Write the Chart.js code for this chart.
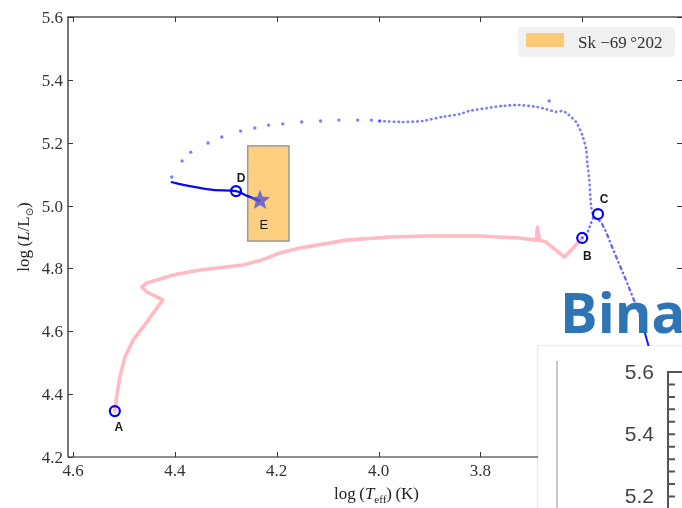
<!DOCTYPE html>
<html><head><meta charset="utf-8">
<script src="https://cdn.jsdelivr.net/npm/chart.js@4"></script>
<style>html,body{margin:0;padding:0;background:#fff;overflow:hidden}canvas{display:block}</style>
</head><body>
<canvas id="c" width="682" height="508"></canvas>
<script>
// ---- data (log Teff, log L/Lsun) ----
const pinkT = [4.518,4.514,4.508,4.498,4.482,4.455,4.424,4.455,4.465,4.455,4.435,4.404,4.351,4.267,4.229,4.194,4.155,4.063,3.978,3.900,3.802,3.724,3.690,3.688,3.684,3.671,3.659,3.635,3.616,3.600];
const pinkL = [4.346,4.397,4.455,4.519,4.572,4.630,4.700,4.725,4.741,4.754,4.763,4.779,4.795,4.811,4.827,4.849,4.865,4.890,4.900,4.903,4.903,4.897,4.890,4.932,4.890,4.884,4.868,4.836,4.868,4.897];

const dotT = [4.406,4.386,4.369,4.335,4.308,4.271,4.243,4.216,4.188,4.151,4.114,4.078,4.041,4.014,3.998,3.665];
const dotL = [5.091,5.142,5.170,5.199,5.218,5.237,5.247,5.256,5.260,5.266,5.269,5.272,5.272,5.272,5.269,5.333];

const denseT = [3.998,3.953,3.914,3.875,3.841,3.822,3.788,3.757,3.724,3.690,3.671,3.651,3.639,3.631,3.612,3.600,3.592,3.590,3.586,3.584,3.582,3.578];
const denseL = [5.269,5.266,5.269,5.282,5.291,5.301,5.310,5.317,5.320,5.314,5.307,5.298,5.301,5.295,5.266,5.225,5.177,5.135,5.081,5.027,4.992,4.964];

const lowT = [3.578,3.563,3.553,3.543,3.533,3.524,3.514,3.504,3.492,3.482];
const lowL = [4.964,4.948,4.916,4.875,4.836,4.801,4.763,4.722,4.674,4.626];

const endT = [3.482,3.473,3.459];
const endL = [4.626,4.572,4.493];

const bcT = [3.600,3.590,3.578];
const bcL = [4.897,4.913,4.964];

const solidT = [4.408,4.371,4.325,4.280,4.257,4.233];
const solidL = [5.075,5.062,5.050,5.046,5.030,5.015];

const markerT = [4.518,3.600,3.569,4.280];
const markerL = [4.346,4.897,4.973,5.046];
const markerNames = ['A','B','C','D'];

const starT = [4.233];
const starL = [5.018];
const starNames = ['E'];

const skBoxT = [4.176,4.257];
const skBoxL = [4.887,5.190];
const legendLabel = 'Sk \u221269\u2009\u00b0202';

const xTicks = [4.6,4.4,4.2,4.0,3.8,3.6];
const yTicks = [4.2,4.4,4.6,4.8,5.0,5.2,5.4,5.6];
const insetTicks = ['5.6','5.4','5.2'];
const overlayWord = 'Bina';

// ---- helpers ----
const pts = (xs, ys) => xs.map((x, i) => ({x: x, y: ys[i]}));
const SERIF = '"Liberation Serif","DejaVu Serif",serif';

function makeStar(){
  const c = document.createElement('canvas');
  c.width = 24; c.height = 24;
  const g = c.getContext('2d');
  g.beginPath();
  for (let i = 0; i < 10; i++) {
    const r = i % 2 === 0 ? 10.5 : 4.6;
    const a = -Math.PI/2 + i*Math.PI/5;
    const px = 12 + r*Math.cos(a), py = 12.5 + r*Math.sin(a);
    if (i === 0) g.moveTo(px, py); else g.lineTo(px, py);
  }
  g.closePath();
  g.fillStyle = 'rgba(85,85,215,0.82)';
  g.fill();
  return c;
}

function runsWidth(ctx, parts){
  let w = 0;
  for (const p of parts){ ctx.font = p[1]; w += ctx.measureText(p[0]).width; }
  return w;
}
function drawRuns(ctx, parts, x, y){
  let cx = x;
  for (const p of parts){
    ctx.font = p[1];
    ctx.fillText(p[0], cx, y + (p[2] || 0));
    cx += ctx.measureText(p[0]).width;
  }
}

const decor = {
  id: 'decor',
  beforeDatasetsDraw(chart){
    const ctx = chart.ctx, xs = chart.scales.x, ys = chart.scales.y;
    const x1 = xs.getPixelForValue(skBoxT[1]), x2 = xs.getPixelForValue(skBoxT[0]);
    const y1 = ys.getPixelForValue(skBoxL[1]), y2 = ys.getPixelForValue(skBoxL[0]);
    ctx.save();
    ctx.fillStyle = '#FDCF7F';
    ctx.fillRect(x1, y1, x2 - x1, y2 - y1);
    ctx.strokeStyle = '#9a9a9a';
    ctx.lineWidth = 1.5;
    ctx.strokeRect(x1, y1, x2 - x1, y2 - y1);
    ctx.restore();
  },
  afterDatasetsDraw(chart){
    const ctx = chart.ctx, xs = chart.scales.x, ys = chart.scales.y, a = chart.chartArea;
    ctx.save();
    // point labels
    ctx.fillStyle = '#1a1a1a';
    ctx.font = 'bold 12px "Liberation Sans",Arial,sans-serif';
    ctx.textAlign = 'center';
    ctx.textBaseline = 'middle';
    const offs = [[4,17],[5,19],[6,-14],[5,-12]];
    markerNames.forEach((n, i) => {
      ctx.fillText(n, xs.getPixelForValue(markerT[i]) + offs[i][0], ys.getPixelForValue(markerL[i]) + offs[i][1]);
    });
    ctx.font = '13px "Liberation Sans",Arial,sans-serif';
    ctx.fillText(starNames[0], xs.getPixelForValue(starT[0]) + 4, ys.getPixelForValue(starL[0]) + 26);

    // frame
    ctx.strokeStyle = '#555';
    ctx.lineWidth = 1.6;
    ctx.beginPath();
    ctx.moveTo(a.left, a.bottom); ctx.lineTo(a.left, a.top); ctx.lineTo(a.right, a.top);
    ctx.stroke();
    ctx.strokeStyle = '#222';
    ctx.lineWidth = 1.2;
    ctx.beginPath();
    ctx.moveTo(a.left, a.bottom); ctx.lineTo(a.right, a.bottom);
    ctx.stroke();
    // ticks (inward)
    ctx.strokeStyle = '#333';
    ctx.lineWidth = 1;
    ctx.beginPath();
    xTicks.forEach(v => {
      const p = Math.round(xs.getPixelForValue(v)) + 0.5;
      ctx.moveTo(p, a.bottom); ctx.lineTo(p, a.bottom - 5);
      ctx.moveTo(p, a.top); ctx.lineTo(p, a.top + 5);
    });
    yTicks.forEach(v => {
      const p = Math.round(ys.getPixelForValue(v)) + 0.5;
      ctx.moveTo(a.left, p); ctx.lineTo(a.left + 5, p);
      ctx.moveTo(a.right, p); ctx.lineTo(a.right - 5, p);
    });
    ctx.stroke();
    // tick labels
    ctx.fillStyle = '#333';
    ctx.font = '17px ' + SERIF;
    ctx.textBaseline = 'alphabetic';
    ctx.textAlign = 'right';
    yTicks.forEach(v => ctx.fillText(v.toFixed(1), a.left - 5, ys.getPixelForValue(v) + 6));
    ctx.textAlign = 'center';
    xTicks.forEach(v => ctx.fillText(v.toFixed(1), xs.getPixelForValue(v), a.bottom + 19));

    // axis titles
    ctx.textAlign = 'left';
    ctx.fillStyle = '#222';
    const f = '17px ' + SERIF, fi = 'italic 17px ' + SERIF, fs = '11px ' + SERIF;
    const xParts = [['log', f], ['\u2009(', f], ['T', fi], ['eff', fs, 4], [')', f], ['\u2009(K)', f]];
    const wx = runsWidth(ctx, xParts);
    drawRuns(ctx, xParts, xs.getPixelForValue(4.0) - 2 - wx / 2, 499);
    const yParts = [['log', f], ['\u2009(', f], ['L', fi], ['/L', f], ['\u2299', '10px "DejaVu Sans",sans-serif', 4], [')', f]];
    const wy = runsWidth(ctx, yParts);
    ctx.save();
    ctx.translate(29, (a.top + a.bottom) / 2);
    ctx.rotate(-Math.PI / 2);
    drawRuns(ctx, yParts, -wy / 2, 0);
    ctx.restore();

    // legend
    ctx.fillStyle = 'rgba(238,238,238,0.85)';
    ctx.beginPath();
    ctx.roundRect ? ctx.roundRect(518, 27, 157, 30, 3) : ctx.rect(518, 27, 157, 30);
    ctx.fill();
    ctx.fillStyle = '#FBCB78';
    ctx.fillRect(526, 33, 38, 14);
    ctx.fillStyle = '#333';
    ctx.font = '17px ' + SERIF;
    ctx.fillText(legendLabel, 578, 48);

    // overlay word
    ctx.fillStyle = '#2E75B6';
    ctx.font = 'bold 56px "Open Sans","Noto Sans",sans-serif';
    ctx.fillText(overlayWord, 560, 333);

    // inset (cropped screenshot of another chart)
    ctx.fillStyle = '#fff';
    ctx.fillRect(538, 346, 150, 170);
    ctx.strokeStyle = 'rgba(0,0,0,0.07)';
    ctx.lineWidth = 1.5;
    ctx.strokeRect(537.5, 345.5, 160, 180);
    ctx.strokeStyle = '#b5b5b5';
    ctx.lineWidth = 1.5;
    ctx.beginPath(); ctx.moveTo(557, 361); ctx.lineTo(557, 510); ctx.stroke();
    ctx.fillStyle = '#444';
    ctx.font = '21px "Liberation Sans",Arial,sans-serif';
    ctx.textAlign = 'right';
    ctx.textBaseline = 'middle';
    insetTicks.forEach((t, i) => ctx.fillText(t, 654, 373 + i * 62));
    ctx.strokeStyle = '#555';
    ctx.lineWidth = 2;
    ctx.beginPath();
    ctx.moveTo(682, 372); ctx.lineTo(668, 372); ctx.lineTo(668, 510);
    for (let k = 1; k < 12; k++) { const yy = 372 + k * 12.45; ctx.moveTo(668, yy); ctx.lineTo(675, yy); }
    ctx.stroke();
    ctx.restore();
  }
};

new Chart(document.getElementById('c'), {
  type: 'scatter',
  data: {
    datasets: [
      { data: pts(starT, starL), pointStyle: makeStar(), pointRadius: 10, showLine: false },
      { data: pts(markerT, markerL), pointRadius: 5, pointBorderWidth: 2.2, pointBorderColor: '#0000ff', pointBackgroundColor: 'rgba(0,0,0,0)', showLine: false },
      { data: pts(solidT, solidL), showLine: true, pointRadius: 0, borderColor: '#0a0aee', borderWidth: 2.3, tension: 0.3 },
      { data: pts(endT, endL), showLine: true, pointRadius: 0, borderColor: '#1818ff', borderWidth: 2 },
      { data: pts(lowT, lowL), showLine: true, pointRadius: 0, borderColor: 'rgba(60,60,255,0.8)', borderWidth: 2.3, borderDash: [3, 4, 0.5, 4], borderCapStyle: 'round' },
      { data: pts(bcT, bcL), showLine: true, pointRadius: 0, borderColor: 'rgba(60,60,255,0.75)', borderWidth: 2.5, borderDash: [0.5, 4], borderCapStyle: 'round' },
      { data: pts(denseT, denseL), showLine: true, pointRadius: 0, borderColor: 'rgba(70,70,255,0.72)', borderWidth: 2.6, borderDash: [0.5, 4.2], borderCapStyle: 'round', tension: 0.2 },
      { data: pts(dotT, dotL), showLine: false, pointRadius: 1.7, pointBorderWidth: 0, pointBackgroundColor: 'rgba(80,80,255,0.75)' },
      { data: pts(pinkT, pinkL), showLine: true, pointRadius: 0, borderColor: 'rgb(255,186,196)', borderWidth: 3.6, borderJoinStyle: 'round', borderCapStyle: 'round' }
    ]
  },
  options: {
    responsive: false,
    animation: false,
    devicePixelRatio: 1,
    layout: { autoPadding: false, padding: { left: 68, top: 17, right: 0, bottom: 51 } },
    scales: {
      x: { type: 'linear', reverse: true, min: 3.404, max: 4.61, display: false },
      y: { type: 'linear', min: 4.2, max: 5.6, display: false }
    },
    plugins: { legend: { display: false }, tooltip: { enabled: false } }
  },
  plugins: [decor]
});
</script>
</body></html>
